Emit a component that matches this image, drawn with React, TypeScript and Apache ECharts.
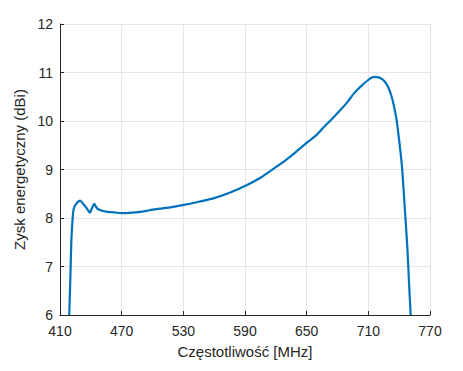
import React, { useEffect, useRef } from "react";
import * as echarts from "echarts";

const freqMHz = [
  419, 420, 421, 422, 423, 424, 426, 429.5, 432.7, 436, 439.2, 441, 443.4, 445, 447.3, 451, 455, 460, 465,
  472, 480, 490, 497, 510, 520, 533, 546, 560, 575, 592, 605, 618, 630, 640, 650, 660, 667, 675, 683, 690,
  696, 703, 709, 713, 716.4, 720, 723, 726.1, 729.5, 732.7, 735, 737.5, 740.7, 743, 745.6, 747.9, 749.8, 751.2,
];
const gainDBi = [
  6.0, 6.7, 7.5, 7.9, 8.15, 8.23, 8.3, 8.36, 8.29, 8.2, 8.11, 8.2, 8.29, 8.23, 8.18, 8.15, 8.13, 8.12, 8.11,
  8.1, 8.11, 8.13, 8.16, 8.2, 8.23, 8.28, 8.34, 8.41, 8.52, 8.68, 8.83, 9.02, 9.2, 9.37, 9.55, 9.72, 9.88, 10.05, 10.23, 10.4,
  10.57, 10.72, 10.83, 10.89, 10.91, 10.9, 10.87, 10.81, 10.69, 10.5, 10.3, 10.02, 9.47, 8.99, 8.16, 7.41, 6.58, 6.0,
];
const xTicks = { min: 410, max: 770, step: 60 };
const yTicks = { min: 6, max: 12, step: 1 };
const xTitle = "Częstotliwość [MHz]";
const yTitle = "Zysk energetyczny (dBi)";

export default function App() {
  const ref = useRef<HTMLDivElement>(null);
  useEffect(() => {
    if (!ref.current) return;
    const chart = echarts.init(ref.current, undefined, { renderer: "svg" });
    const font = "'Liberation Sans', Arial, sans-serif";
    const axisColor = "#262626";
    chart.setOption({
      animation: false,
      backgroundColor: "#ffffff",
      grid: { left: 60, top: 24, right: 33, bottom: 56, containLabel: false },
      xAxis: {
        type: "value",
        min: xTicks.min,
        max: xTicks.max,
        interval: xTicks.step,
        name: xTitle,
        nameLocation: "middle",
        nameGap: 29,
        nameTextStyle: { color: axisColor, fontSize: 15, fontFamily: font },
        axisLine: { show: true, lineStyle: { color: axisColor, width: 1 } },
        axisTick: { show: true, inside: true, length: 4, lineStyle: { color: axisColor } },
        axisLabel: { color: axisColor, fontSize: 14, fontFamily: font, margin: 9 },
        splitLine: { show: true, lineStyle: { color: "#e6e6e6", width: 1 } },
      },
      yAxis: {
        type: "value",
        min: yTicks.min,
        max: yTicks.max,
        interval: yTicks.step,
        name: yTitle,
        nameLocation: "middle",
        nameGap: 28,
        nameTextStyle: { color: axisColor, fontSize: 15, fontFamily: font },
        axisLine: { show: true, lineStyle: { color: axisColor, width: 1 } },
        axisTick: { show: true, inside: true, length: 4, lineStyle: { color: axisColor } },
        axisLabel: { color: axisColor, fontSize: 14, fontFamily: font, margin: 7 },
        splitLine: { show: true, lineStyle: { color: "#e6e6e6", width: 1 } },
      },
      series: [
        {
          type: "line",
          data: freqMHz.map((f, i) => [f, gainDBi[i]]),
          showSymbol: false,
          smooth: 0.2,
          clip: true,
          lineStyle: { color: "#0072BD", width: 2.2 },
        },
      ],
    });
    return () => chart.dispose();
  }, []);
  return (
    <div
      ref={ref}
      style={{ position: "fixed", left: 0, top: 0, width: 463, height: 371, background: "#fff" }}
    />
  );
}
